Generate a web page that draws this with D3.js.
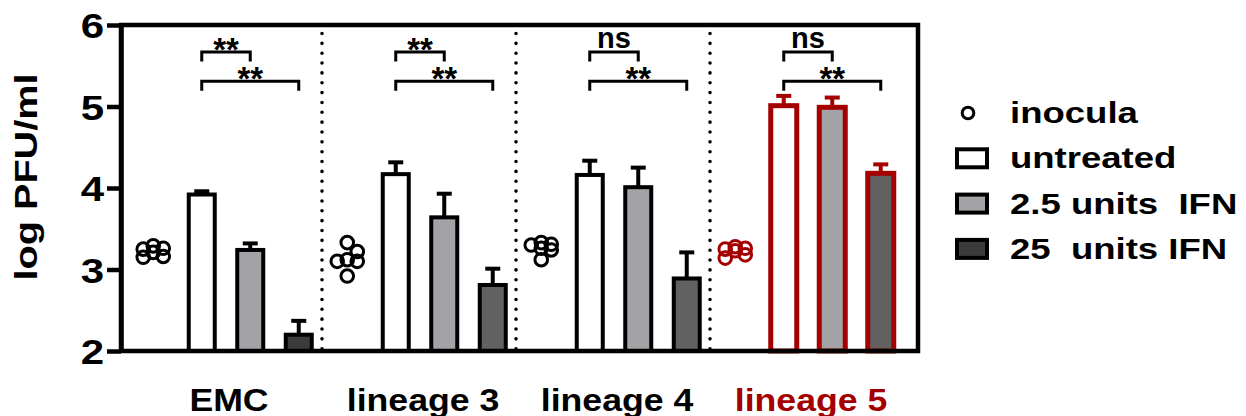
<!DOCTYPE html>
<html><head><meta charset="utf-8">
<script src="https://cdn.jsdelivr.net/npm/d3@7"></script>
<style>
body{margin:0;background:#fff}
text{font-family:"Liberation Sans",Arial,sans-serif;font-weight:bold;white-space:pre}
</style></head><body>
<svg id="c" width="1246" height="416"></svg>
<script>
// ---------- data ----------
const groups = ["EMC","lineage 3","lineage 4","lineage 5"];
const seriesNames = ["inocula","untreated","2.5 units  IFN","25  units IFN"];
const yTicks = [2,3,4,5,6];
const inoculaEMC = [3.29,3.26,3.25,3.21,3.16,3.15];
const inoculaL3  = [3.33,3.22,3.12,3.10,3.10,2.92];
const inoculaL4  = [3.33,3.31,3.30,3.26,3.24,3.12];
const inoculaL5  = [3.28,3.26,3.25,3.23,3.18,3.14];
const untreatedMean = [3.92,4.17,4.16,5.01];
const untreatedSD   = [0.04,0.145,0.175,0.12];
const ifnLowMean  = [3.24,3.64,4.01,4.99];
const ifnLowSD    = [0.08,0.29,0.24,0.12];
const ifnHighMean = [2.20,2.81,2.89,4.18];
const ifnHighSD   = [0.17,0.20,0.32,0.11];
const sigLow  = ["**","**","ns","ns"];   // untreated vs 2.5 units IFN
const sigHigh = ["**","**","**","**"];   // untreated vs 25 units IFN

// ---------- layout ----------
const svg = d3.select("#c");
const plotL = 121, plotR = 918;
const x0 = d3.scaleBand().domain(groups).range([129,905]);
const x1 = d3.scaleBand().domain(seriesNames).range([0,x0.bandwidth()]);
const y = d3.scaleLinear().domain([2,6]).range([351,25]);
const red = "#a50000";
const col = g => g === "lineage 5" ? red : "#000";
const barW = 26;
const lowLevel = 5.67, highLevel = 5.31;
const inocula = [inoculaEMC, inoculaL3, inoculaL4, inoculaL5];
const barSeries = [
  {name: seriesNames[1], mean: untreatedMean, sd: untreatedSD, fill: g => "#ffffff"},
  {name: seriesNames[2], mean: ifnLowMean, sd: ifnLowSD, fill: g => "#a3a3a7"},
  {name: seriesNames[3], mean: ifnHighMean, sd: ifnHighSD, fill: g => g === "EMC" ? "#3b3b3b" : "#616161"}
];
const cx = (g, s) => x0(g) + x1(s) + x1.bandwidth()/2;

// separators
svg.append("g").selectAll("line").data(groups.slice(1)).join("line")
  .attr("x1", d => x0(d) - 1).attr("x2", d => x0(d) - 1)
  .attr("y1", y(6) + 8.5).attr("y2", y(2) - 1)
  .attr("stroke", "#000").attr("stroke-width", 3.6)
  .attr("stroke-linecap", "round").attr("stroke-dasharray", "0 9.85");

// inocula dots (simple dodge layout)
function dodge(vals, c) {
  const placed = [], dx = 10, minD = 10.5, offs = [0, 1, -1];
  vals.slice().sort((a,b) => b - a).forEach(v => {
    const py = y(v);
    let best = null, bestD = -1;
    for (const o of offs) {
      const px = c + o*dx;
      const d = placed.length ? d3.min(placed, q => Math.hypot(q.x - px, q.y - py)) : Infinity;
      if (d >= minD) { best = px; bestD = d; break; }
      if (d > bestD) { bestD = d; best = px; }
    }
    placed.push({x: best, y: py});
  });
  return placed;
}
groups.forEach((g, gi) => {
  svg.append("g").selectAll("circle").data(dodge(inocula[gi], cx(g, seriesNames[0]))).join("circle")
    .attr("cx", d => d.x).attr("cy", d => d.y).attr("r", 6.3)
    .attr("fill", "none").attr("stroke", col(g)).attr("stroke-width", 3);
});

// error bars + bars
barSeries.forEach(s => {
  groups.forEach((g, gi) => {
    const c = cx(g, s.name), m = s.mean[gi], e = s.sd[gi];
    const eb = svg.append("g").attr("stroke", col(g)).attr("stroke-width", 4);
    eb.append("line").attr("x1", c).attr("x2", c).attr("y1", y(m)).attr("y2", y(m + e));
    eb.append("line").attr("x1", c - 7.5).attr("x2", c + 7.5).attr("y1", y(m + e)).attr("y2", y(m + e));
    svg.append("rect")
      .attr("x", c - barW/2).attr("width", barW)
      .attr("y", y(m)).attr("height", y(2) - y(m))
      .attr("fill", s.fill(g)).attr("stroke", col(g))
      .attr("stroke-width", g === "lineage 5" ? 5 : 4);
  });
});

// significance brackets
groups.forEach((g, gi) => {
  const a = cx(g, seriesNames[1]);
  [[seriesNames[2], lowLevel, sigLow[gi]], [seriesNames[3], highLevel, sigHigh[gi]]].forEach(([s, lev, lab]) => {
    const b = cx(g, s), ly = y(lev);
    svg.append("path").attr("d", `M${a},${ly + 9.5}V${ly}H${b}V${ly + 9.5}`)
      .attr("fill", "none").attr("stroke", "#000").attr("stroke-width", 3);
    svg.append("text").attr("x", (a + b)/2).attr("y", lab === "ns" ? ly - 4 : ly + 9)
      .attr("text-anchor", "middle").attr("font-size", lab === "ns" ? 29 : 33).text(lab);
  });
});

// frame and axes
svg.append("rect").attr("x", plotL).attr("y", y(6)).attr("width", plotR - plotL).attr("height", y(2) - y(6))
  .attr("fill", "none").attr("stroke", "#000").attr("stroke-width", 4.5);
const ya = svg.append("g").attr("transform", `translate(${plotL},0)`)
  .call(d3.axisLeft(y).tickValues(yTicks).tickSize(14).tickSizeOuter(0).tickFormat(d3.format("d")));
ya.select(".domain").attr("stroke-width", 4.5);
ya.selectAll(".tick line").attr("stroke-width", 4.5);
ya.selectAll(".tick text").attr("x", 0).attr("dy", "0.36em")
  .attr("transform", "translate(-17,0) scale(1.2,1)")
  .attr("font-size", 35).attr("font-family", null).attr("fill", "#000");

const xa = svg.append("g").attr("transform", `translate(0,${y(2)})`)
  .call(d3.axisBottom(x0).tickSize(0));
xa.select(".domain").remove();
xa.selectAll(".tick text").attr("y", null).attr("dy", null)
  .attr("transform", "translate(3,60) scale(1.15,1)")
  .attr("font-size", 31).attr("font-family", null).attr("fill", d => col(d));

// y label
svg.append("text").attr("transform", "translate(37,177) rotate(-90) scale(1.24,1)")
  .attr("text-anchor", "middle").attr("font-size", 32).text("log PFU/ml");

// legend
const legFills = ["none", "#ffffff", "#a3a3a7", "#3b3b3b"];
const leg = svg.append("g").selectAll("g").data(seriesNames).join("g")
  .attr("transform", (d, i) => `translate(972,${113 + i*45.3})`);
leg.filter((d, i) => i === 0).append("circle").attr("cx", -4).attr("r", 5.8)
  .attr("fill", "none").attr("stroke", "#000").attr("stroke-width", 3);
leg.filter((d, i) => i > 0).append("rect").attr("x", -15).attr("y", -9).attr("width", 30).attr("height", 18)
  .attr("fill", (d, i) => legFills[i + 1]).attr("stroke", "#000").attr("stroke-width", 4);
leg.append("text").attr("transform", "translate(38,10) scale(1.26,1)")
  .attr("font-size", 29).text(d => d);
</script></body></html>
